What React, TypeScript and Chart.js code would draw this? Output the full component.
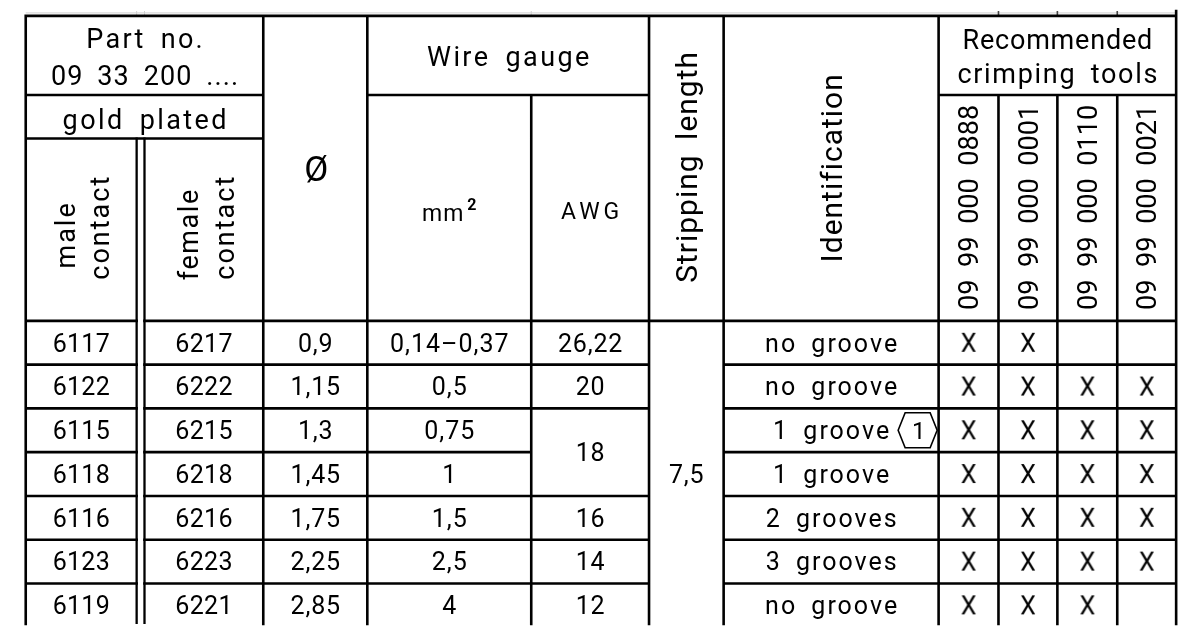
import React, { useEffect, useRef } from "react";
import { Chart, registerables } from "chart.js";

Chart.register(...registerables);

// ---------------- data ----------------
const maleContact = ["6117", "6122", "6115", "6118", "6116", "6123", "6119"];
const femaleContact = ["6217", "6222", "6215", "6218", "6216", "6223", "6221"];
const diameter = ["0,9", "1,15", "1,3", "1,45", "1,75", "2,25", "2,85"];
const wireMm2 = ["0,14–0,37", "0,5", "0,75", "1", "1,5", "2,5", "4"];
const wireAwg = ["26,22", "20", "18", "18", "16", "14", "12"];
const strippingLength = ["7,5", "7,5", "7,5", "7,5", "7,5", "7,5", "7,5"];
const identification = ["no groove", "no groove", "1 groove", "1 groove", "2 grooves", "3 grooves", "no groove"];
const identificationNote = ["", "", "1", "", "", "", ""];
const toolNumbers = ["09 99 000 0888", "09 99 000 0001", "09 99 000 0110", "09 99 000 0021"];
const tool0888 = [true, true, true, true, true, true, true];
const tool0001 = [true, true, true, true, true, true, true];
const tool0110 = [false, true, true, true, true, true, true];
const tool0021 = [false, true, true, true, true, true, false];
const toolMarks = [tool0888, tool0001, tool0110, tool0021];

const partNoLines = ["Part no.", "09 33 200 ...."];
const platingLabel = "gold plated";
const maleLines = ["male", "contact"];
const femaleLines = ["female", "contact"];
const diameterLabel = "Ø";
const wireGaugeLabel = "Wire gauge";
const mm2Label = ["mm", "2"];
const awgLabel = "AWG";
const strippingLabel = "Stripping length";
const identificationLabel = "Identification";
const toolsLines = ["Recommended", "crimping tools"];
const markLabel = "X";

// ---------------- layout (scale units) ----------------
const W = 1195;
const H = 635;
const FONT = "Roboto";
const CAP = 0.711;
const LW = 2.6;
const WS = 6;
const XE = { left: 15, male: 128, female: 136, dia: 257, mm2: 363, awg: 530, strip: 650, ident: 726, tools: 945, right: 1187 };
const toolEdges = [945, 1006, 1066, 1127, 1187];
const YE = { top: 5, sub1: 87, sub2: 132, head: 321 };
const ROW_H = (593 - 321) / 6;

const rowTop = (i: number) => YE.head + i * ROW_H;

type Col = { l: number; r: number; v: string[]; merge?: boolean; size: number; ls: number };
const bodyCols: Col[] = [
  { l: XE.left, r: XE.male, v: maleContact, size: 25, ls: 0.3 },
  { l: XE.female, r: XE.dia, v: femaleContact, size: 25, ls: 0.3 },
  { l: XE.dia, r: XE.mm2, v: diameter, size: 25, ls: 0.8 },
  { l: XE.mm2, r: XE.awg, v: wireMm2, size: 25, ls: 1 },
  { l: XE.awg, r: XE.strip, v: wireAwg, merge: true, size: 25, ls: 0.8 },
  { l: XE.strip, r: XE.ident, v: strippingLength, merge: true, size: 25, ls: 0.8 },
  { l: XE.ident, r: XE.tools, v: identification, size: 25, ls: 2 },
];

function makeGlyph(s: string, size: number) {
  const c = document.createElement("canvas");
  c.width = 24;
  c.height = 30;
  const g = c.getContext("2d")!;
  g.fillStyle = "#000";
  g.font = `${size}px ${FONT}`;
  g.textAlign = "center";
  g.textBaseline = "alphabetic";
  g.fillText(s, c.width / 2, c.height / 2 + (CAP * size) / 2);
  return c;
}

function txt(
  ctx: CanvasRenderingContext2D,
  s: string,
  x: number,
  y: number,
  size: number,
  ls: number,
  rot = false,
  align: CanvasTextAlign = "center",
  weight = "normal",
  ws = WS
) {
  ctx.save();
  ctx.font = `${weight} ${size}px ${FONT}`;
  (ctx as any).letterSpacing = `${ls}px`;
  (ctx as any).wordSpacing = `${ws}px`;
  ctx.textAlign = align;
  ctx.textBaseline = "alphabetic";
  ctx.fillStyle = "#000";
  ctx.translate(x, y);
  if (rot) ctx.rotate(-Math.PI / 2);
  ctx.fillText(s, align === "center" ? ls / 2 : 0, 0);
  const w = ctx.measureText(s).width;
  ctx.restore();
  return w;
}

const tablePlugin = {
  id: "tableGrid",
  beforeDraw(chart: any) {
    const { ctx } = chart;
    ctx.save();
    ctx.fillStyle = "#fff";
    ctx.fillRect(0, 0, chart.width, chart.height);
    ctx.restore();
  },
  afterDraw(chart: any) {
    const { ctx } = chart;
    const sx = chart.scales.x;
    const sy = chart.scales.y;
    const px = (v: number) => sx.getPixelForValue(v);
    const py = (v: number) => sy.getPixelForValue(v);

    // faint construction traces
    ctx.save();
    ctx.strokeStyle = "#d0d0d0";
    ctx.lineWidth = 1;
    ctx.beginPath();
    ctx.moveTo(px(XE.left), py(2));
    ctx.lineTo(px(XE.right), py(2));
    [XE.male, XE.female, XE.awg].forEach((x) => {
      ctx.moveTo(px(x), py(0));
      ctx.lineTo(px(x), py(YE.top));
    });
    ctx.stroke();
    ctx.strokeStyle = "#444";
    ctx.lineWidth = 1.6;
    ctx.beginPath();
    toolEdges.slice(1, 4).forEach((x) => {
      ctx.moveTo(px(x), py(0));
      ctx.lineTo(px(x), py(YE.top));
    });
    ctx.stroke();
    ctx.restore();

    // grid lines
    ctx.save();
    ctx.strokeStyle = "#000";
    ctx.lineWidth = LW;
    ctx.lineCap = "square";
    ctx.beginPath();
    const hl = (y: number, a: number, b: number) => {
      ctx.moveTo(px(a), py(y));
      ctx.lineTo(px(b), py(y));
    };
    const vl = (x: number, a: number, b: number) => {
      ctx.moveTo(px(x), py(a));
      ctx.lineTo(px(x), py(b));
    };
    hl(YE.top, XE.left, XE.right);
    hl(YE.sub1, XE.left, XE.dia);
    hl(YE.sub1, XE.mm2, XE.strip);
    hl(YE.sub1, XE.tools, XE.right);
    hl(YE.sub2, XE.left, XE.dia);
    hl(YE.head, XE.left, XE.male);
    hl(YE.head, XE.female, XE.right);
    const n = maleContact.length;
    for (let i = 1; i < n; i++) {
      const y = rowTop(i);
      bodyCols.forEach((c) => {
        if (c.merge && c.v[i] === c.v[i - 1]) return;
        hl(y, c.l, c.r);
      });
      hl(y, XE.tools, XE.right);
    }
    vl(XE.left, YE.top, H);
    vl(XE.dia, YE.top, H);
    vl(XE.mm2, YE.top, H);
    vl(XE.awg, YE.sub1, H);
    vl(XE.strip, YE.top, H);
    vl(XE.ident, YE.top, H);
    vl(XE.tools, YE.top, H);
    toolEdges.slice(1, 4).forEach((x) => vl(x, YE.sub1, H));
    vl(XE.right, 0, H);
    ctx.stroke();
    ctx.lineWidth = 2.3;
    ctx.lineCap = "butt";
    ctx.beginPath();
    vl(XE.male, YE.sub2 - 1, H);
    vl(XE.female, YE.sub2 - 1, H);
    ctx.stroke();
    ctx.restore();

    // header texts
    const cPart = px((XE.left + XE.dia) / 2);
    txt(ctx, partNoLines[0], cPart, py(38), 27, 2.3);
    txt(ctx, partNoLines[1], cPart, py(77), 27, 1.1);
    txt(ctx, platingLabel, cPart, py(122), 27, 2.4);

    txt(ctx, maleLines[0], px(65), py(233), 27, 2, true);
    txt(ctx, maleLines[1], px(100), py(225), 27, 2, true);
    txt(ctx, femaleLines[0], px(190), py(232), 27, 1.6, true);
    txt(ctx, femaleLines[1], px(227), py(225), 27, 2, true);

    txt(ctx, diameterLabel, px((XE.dia + XE.mm2) / 2 + 1), py(163) + (CAP * 35) / 2, 35, 0);

    txt(ctx, wireGaugeLabel, px((XE.mm2 + XE.strip) / 2), py(57), 27, 2.4);

    // mm²
    ctx.save();
    ctx.font = `23px ${FONT}`;
    (ctx as any).letterSpacing = "1px";
    const wmm = ctx.measureText(mm2Label[0]).width;
    ctx.font = `700 16px ${FONT}`;
    (ctx as any).letterSpacing = "0px";
    const wsup = ctx.measureText(mm2Label[1]).width;
    ctx.restore();
    const mmStart = px((XE.mm2 + XE.awg) / 2) - (wmm + 3 + wsup) / 2;
    txt(ctx, mm2Label[0], mmStart, py(218), 23, 1, false, "left");
    txt(ctx, mm2Label[1], mmStart + wmm + 3, py(206), 16, 0, false, "left", "700");

    txt(ctx, awgLabel, px((XE.awg + XE.strip) / 2), py(215), 23, 4);

    const cStrip = (XE.strip + XE.ident) / 2;
    txt(ctx, strippingLabel, px(cStrip) + (CAP * 30) / 2, py(162), 30, 1, true);
    const cIdent = (XE.ident + XE.tools) / 2;
    txt(ctx, identificationLabel, px(cIdent) + (CAP * 30) / 2, py(163), 30, 1, true);

    const cTools = px((XE.tools + XE.right) / 2);
    txt(ctx, toolsLines[0], cTools, py(39), 27, 0.8);
    txt(ctx, toolsLines[1], cTools, py(75), 27, 1.7);
    toolNumbers.forEach((t, i) => {
      const cx = (toolEdges[i] + toolEdges[i + 1]) / 2;
      txt(ctx, t, px(cx) + (CAP * 27) / 2, py(203.5), 27, 0, true);
    });

    // body texts
    bodyCols.forEach((c) => {
      const cx = px((c.l + c.r) / 2);
      let i = 0;
      while (i < n) {
        let j = i;
        if (c.merge) while (j + 1 < n && c.v[j + 1] === c.v[i]) j++;
        const cy = (py(rowTop(i)) + py(rowTop(j + 1))) / 2;
        const w = txt(ctx, c.v[i], cx, cy + (CAP * c.size) / 2, c.size, c.ls);
        if (c.v === identification && identificationNote[i]) {
          const hx = cx + w / 2 + 8;
          const hw = 39;
          const hh = 35;
          const ins = 7;
          ctx.save();
          ctx.strokeStyle = "#000";
          ctx.lineWidth = 1.6;
          ctx.beginPath();
          ctx.moveTo(hx, cy);
          ctx.lineTo(hx + ins, cy - hh / 2);
          ctx.lineTo(hx + hw - ins, cy - hh / 2);
          ctx.lineTo(hx + hw, cy);
          ctx.lineTo(hx + hw - ins, cy + hh / 2);
          ctx.lineTo(hx + ins, cy + hh / 2);
          ctx.closePath();
          ctx.stroke();
          ctx.restore();
          txt(ctx, identificationNote[i], hx + hw / 2 + 1, cy + (CAP * 24) / 2, 24, 0);
        }
        i = j + 1;
      }
    });
  },
};

export default function App() {
  const ref = useRef<HTMLCanvasElement>(null);
  useEffect(() => {
    const canvas = ref.current!;
    const points: { x: number; y: number }[] = [];
    toolMarks.forEach((marks, t) =>
      marks.forEach((m, r) => {
        if (m) points.push({ x: (toolEdges[t] + toolEdges[t + 1]) / 2, y: rowTop(r) + ROW_H / 2 });
      })
    );
    const glyph = makeGlyph(markLabel, 25);
    const chart = new Chart(canvas, {
      type: "scatter",
      data: {
        datasets: [
          {
            data: points,
            pointStyle: glyph as any,
            pointRadius: 10,
            pointHoverRadius: 10,
            showLine: false,
          },
        ],
      },
      options: {
        animation: false,
        responsive: false,
        events: [],
        layout: { padding: 0 },
        scales: {
          x: { type: "linear", min: 0, max: W, display: false },
          y: { type: "linear", min: 0, max: H, reverse: true, display: false },
        },
        plugins: { legend: { display: false }, tooltip: { enabled: false } },
      },
      plugins: [tablePlugin as any],
    });
    return () => chart.destroy();
  }, []);
  return (
    <div style={{ position: "fixed", left: 0, top: 0, width: W, height: H, background: "#fff" }}>
      <canvas ref={ref} width={W} height={H} style={{ display: "block", width: W, height: H }} />
    </div>
  );
}
